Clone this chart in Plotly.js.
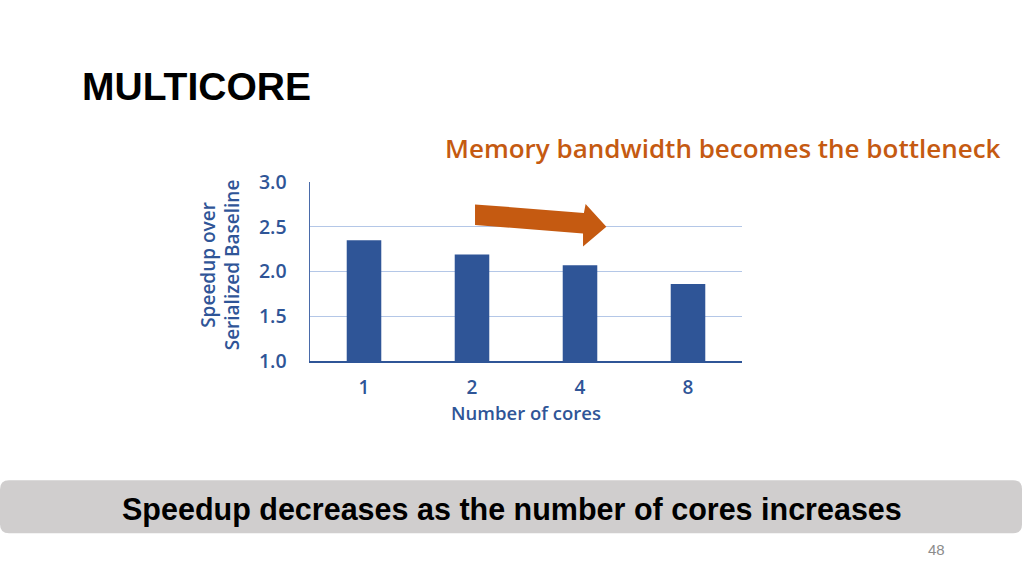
<!DOCTYPE html>
<html><head><meta charset="utf-8">
<script src="https://cdn.plot.ly/plotly-3.0.1.min.js"></script>
<style>html,body{margin:0;padding:0;background:#fff;}#chart{width:1024px;height:576px;}</style>
</head><body><div id="chart"></div>
<script>
// ---- data ----
const cores = ['1', '2', '4', '8'];
const speedup = [2.35, 2.19, 2.07, 1.86];
const yTicks = [1.0, 1.5, 2.0, 2.5, 3.0];
const yTickLabels = ['1.0', '1.5', '2.0', '2.5', '3.0'];
const pageTitle = 'MULTICORE';
const subTitle = 'Memory bandwidth becomes the bottleneck';
const bannerText = 'Speedup decreases as the number of cores increases';
const yTitle = 'Speedup over<br>Serialized Baseline';
const xTitle = 'Number of cores';
const pageNumber = '48';

// ---- layout geometry (pixels) ----
const W = 1024, H = 576;
const L = 310, R = 742, T = 181.7, B = 360.7;
const px = x => (x - L) / (R - L);
const py = y => (B - y) / (B - T);

const blue = '#2F5597';
const orange = '#C55A11';
const chartFont = '"Open Sans", Roboto, sans-serif';
const headFont = '"Liberation Sans", Arial, sans-serif';

function roundRect(x0, y0, x1, y1, r) {
  const X0 = px(x0), X1 = px(x1), Y0 = py(y0), Y1 = py(y1);
  const rx = r / (R - L), ry = r / (B - T);
  return `M ${X0 + rx} ${Y0} L ${X1 - rx} ${Y0} Q ${X1} ${Y0} ${X1} ${Y0 - ry} ` +
         `L ${X1} ${Y1 + ry} Q ${X1} ${Y1} ${X1 - rx} ${Y1} L ${X0 + rx} ${Y1} ` +
         `Q ${X0} ${Y1} ${X0} ${Y1 + ry} L ${X0} ${Y0 - ry} Q ${X0} ${Y0} ${X0 + rx} ${Y0} Z`;
}

// arrow polygon: x in paper, y in data units
const arrowPts = [
  [0.382, 2.75], [0.634, 2.655], [0.638, 2.755], [0.686, 2.50],
  [0.632, 2.28], [0.632, 2.425], [0.382, 2.52]
];
const arrowPath = 'M ' + arrowPts.map(p => p[0] + ' ' + p[1]).join(' L ') + ' Z';

const trace = {
  type: 'bar', x: cores, y: speedup,
  marker: {color: blue, line: {width: 0}},
  hoverinfo: 'skip'
};

const layout = {
  width: W, height: H,
  margin: {l: L, r: W - R, t: T, b: H - B, pad: 0},
  paper_bgcolor: '#ffffff', plot_bgcolor: '#ffffff',
  showlegend: false,
  bargap: 0.68,
  xaxis: {
    type: 'category', showgrid: false, zeroline: false,
    showline: true, linecolor: blue, linewidth: 2,
    ticks: 'outside', ticklen: 8, tickcolor: 'rgba(0,0,0,0)',
    tickfont: {family: chartFont, size: 19, color: blue, weight: 600},
    title: {text: xTitle, standoff: 7, font: {family: chartFont, size: 18.5, color: blue, weight: 600}}
  },
  yaxis: {
    range: [1, 3], tickvals: yTicks, ticktext: yTickLabels,
    showgrid: true, gridcolor: '#B4C7E7', gridwidth: 1.3, zeroline: false,
    showline: true, linecolor: '#4A6BAA', linewidth: 1.5,
    ticks: 'outside', ticklen: 18, tickcolor: 'rgba(0,0,0,0)',
    tickfont: {family: chartFont, size: 19.5, color: blue, weight: 600}
  },
  shapes: [
    {type: 'path', xref: 'paper', yref: 'paper', path: roundRect(0, 480, 1022, 533, 9),
     fillcolor: '#D0CECE', line: {width: 0}, layer: 'below'},
    {type: 'path', xref: 'paper', yref: 'y', path: arrowPath,
     fillcolor: orange, line: {width: 0}}
  ],
  annotations: [
    {text: pageTitle, xref: 'paper', yref: 'paper', x: px(80), y: py(86),
     xanchor: 'left', yanchor: 'middle', showarrow: false,
     font: {family: headFont, size: 39, color: '#000', weight: 'bold'}},
    {text: subTitle, xref: 'paper', yref: 'paper', x: px(1003), y: py(148),
     xanchor: 'right', yanchor: 'middle', showarrow: false,
     font: {family: chartFont, size: 26, color: orange, weight: 600}},
    {text: yTitle, xref: 'paper', yref: 'paper', x: px(220), y: py(265),
     xanchor: 'center', yanchor: 'middle', showarrow: false, textangle: -90,
     font: {family: chartFont, size: 19, color: blue, weight: 600}},
    {text: bannerText, xref: 'paper', yref: 'paper', x: px(512), y: py(509),
     xanchor: 'center', yanchor: 'middle', showarrow: false,
     font: {family: headFont, size: 30.5, color: '#000', weight: 'bold'}},
    {text: pageNumber, xref: 'paper', yref: 'paper', x: px(936), y: py(549),
     xanchor: 'center', yanchor: 'middle', showarrow: false,
     font: {family: headFont, size: 15, color: '#8C8C8C'}}
  ]
};

Plotly.newPlot('chart', [trace], layout, {staticPlot: true, displayModeBar: false});
</script></body></html>
